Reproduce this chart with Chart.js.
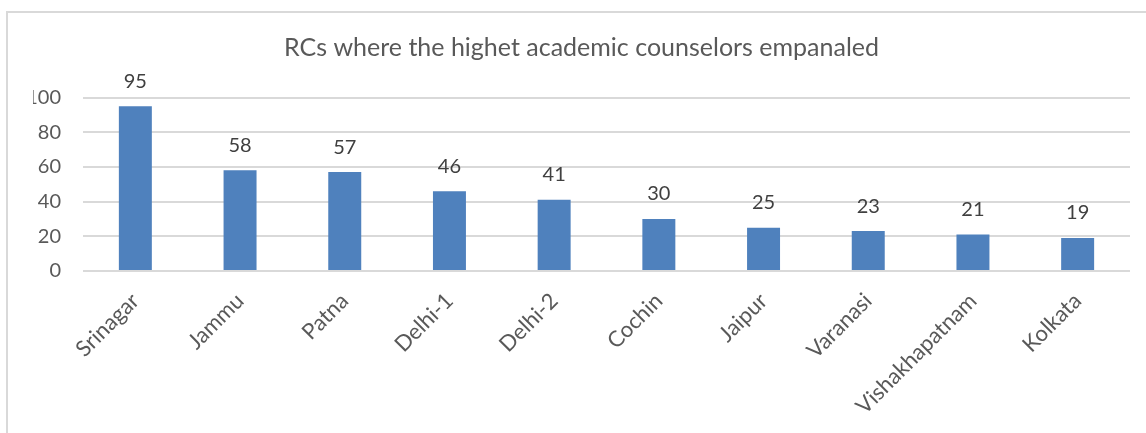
<!DOCTYPE html>
<html>
<head>
<meta charset="utf-8">
<script src="https://cdn.jsdelivr.net/npm/chart.js@4/dist/chart.umd.min.js"></script>
<style>
  html, body { margin: 0; padding: 0; background: #ffffff; }
  #wrap { width: 1146px; height: 433px; position: relative; }
</style>
</head>
<body>
<div id="wrap"><canvas id="c" width="1146" height="433"></canvas></div>
<script>
const titleText = "RCs where the highet academic counselors empanaled";
const categories = ["Srinagar", "Jammu", "Patna", "Delhi-1", "Delhi-2", "Cochin", "Jaipur", "Varanasi", "Vishakhapatnam", "Kolkata"];
const counselors = [95, 58, 57, 46, 41, 30, 25, 23, 21, 19];
const yTicks = [0, 20, 40, 60, 80, 100];

const FONT = "Lato, 'Open Sans', sans-serif";

const frame = {
  id: 'frame',
  beforeDraw(chart) {
    const ctx = chart.ctx;
    ctx.save();
    ctx.fillStyle = '#ffffff';
    ctx.fillRect(0, 0, chart.width, chart.height);
    ctx.fillStyle = '#d9d9d9';
    ctx.fillRect(6, 11, chart.width - 6, 2);
    ctx.fillRect(6, 11, 2, chart.height - 11);
    ctx.restore();
  }
};

const valueLabels = {
  id: 'valueLabels',
  afterDatasetsDraw(chart) {
    const ctx = chart.ctx;
    const meta = chart.getDatasetMeta(0);
    ctx.save();
    ctx.font = "20px " + FONT;
    ctx.fillStyle = '#404040';
    ctx.textAlign = 'center';
    ctx.textBaseline = 'middle';
    meta.data.forEach((bar, i) => {
      ctx.fillText(String(chart.data.datasets[0].data[i]), bar.x, bar.y - 25);
    });
    ctx.restore();
  }
};

new Chart(document.getElementById('c'), {
  type: 'bar',
  data: {
    labels: categories,
    datasets: [{
      data: counselors,
      backgroundColor: '#4f81bd',
      borderWidth: 0,
      barPercentage: 0.315,
      categoryPercentage: 1.0
    }]
  },
  options: {
    responsive: false,
    animation: false,
    devicePixelRatio: 1,
    layout: { padding: { left: 33, right: 16, top: 0, bottom: 0 } },
    plugins: {
      legend: { display: false },
      tooltip: { enabled: false },
      title: {
        display: true,
        text: titleText,
        color: '#595959',
        font: { family: FONT, size: 25, weight: 'normal', lineHeight: 1.2 },
        padding: { top: 33, bottom: 34.5 }
      }
    },
    scales: {
      x: {
        grid: { display: false },
        border: { display: false },
        ticks: {
          color: '#595959',
          font: { family: FONT, size: 22 },
          minRotation: 45,
          maxRotation: 45,
          padding: 9,
          autoSkip: false
        },
        afterFit(scale) { scale.height = 162; scale.paddingLeft = 0; scale.paddingRight = 0; }
      },
      y: {
        min: 0,
        max: 100,
        afterBuildTicks(scale) { scale.ticks = yTicks.map(v => ({ value: v })); },
        grid: { color: '#d9d9d9', lineWidth: 2, drawTicks: false },
        border: { display: false },
        ticks: {
          color: '#595959',
          font: { family: FONT, size: 20 },
          padding: 22
        },
        afterFit(scale) { scale.width = 50; }
      }
    }
  },
  plugins: [frame, valueLabels]
});
</script>
</body>
</html>
